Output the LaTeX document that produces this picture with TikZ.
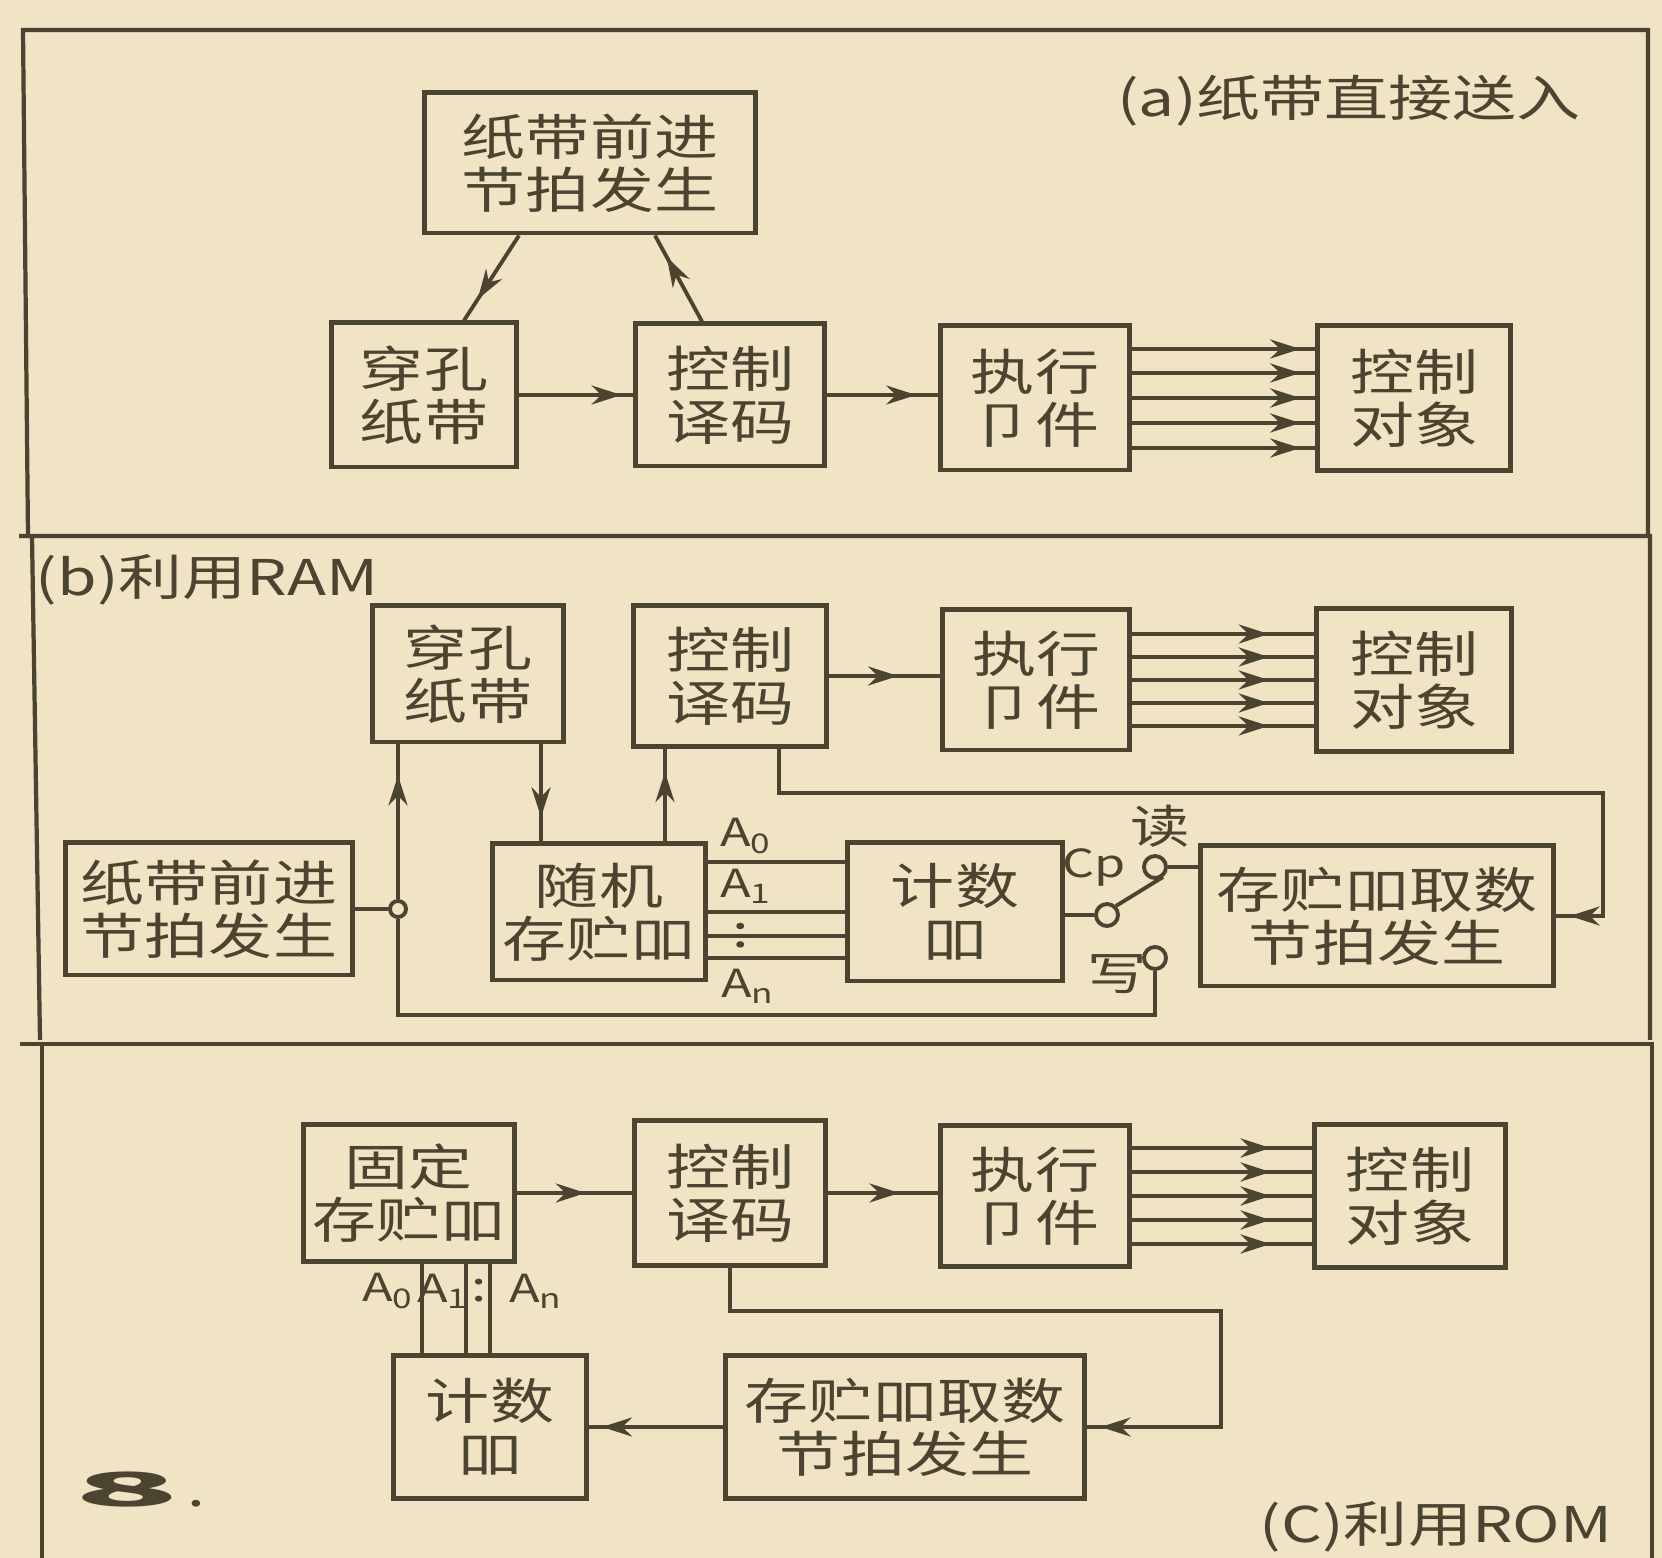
\documentclass[tikz,border=0pt]{standalone}
\usepackage{fontspec}
\setmainfont{Noto Sans CJK SC}[FakeStretch=1.3]
\usetikzlibrary{
  arrows.meta,
  calc,
  decorations.markings
}
\definecolor{paperTone}{HTML}{F1E4C4}
\definecolor{inkTone}{HTML}{4A4430}
\tikzset{
  blockBox/.style={
    draw=inkTone,
    line width=1.4pt,
    align=center,
    inner sep=0pt,
    text=inkTone,
    font=\fontsize{14}{15}\selectfont
  },
  flowLine/.style={inkTone, line width=1.1pt},
  flowArrow/.style={
    flowLine,
    postaction={decorate},
    decoration={markings,
      mark=at position #1 with {\arrow{Stealth[length=3mm, width=1.9mm]}}}
  },
  flowArrow/.default=0.8,
  framePanel/.style={inkTone, line width=1.2pt},
  panelLabel/.style={text=inkTone, inner sep=0pt, font=\fontsize{14}{16}\selectfont},
  pinLabel/.style={text=inkTone, inner sep=0pt, font=\fontsize{11}{13}\selectfont},
  switchPin/.style={circle, draw=inkTone, line width=1.1pt, fill=paperTone,
                    inner sep=0pt, minimum size=2.2mm}
}

\begin{document}
\begin{tikzpicture}[x=0.01cm,y=-0.01cm]
  \fill[paperTone] (0,0) rectangle (1662,1558);
  \useasboundingbox (0,0) rectangle (1662,1558);

  % panel frames
  \draw[framePanel] (28,536) -- (23,30) -- (1648,30) -- (1648,536);
  \draw[framePanel] (40,1040) -- (32,536) -- (19,536) -- (1650,536) -- (1650,1040);
  \draw[framePanel] (42,1558) -- (42,1044) -- (20,1044) -- (1652,1044) -- (1652,1558);

  % (a)
  \node[panelLabel] (aTitle) at (1349,101) {(a)纸带直接送入};
  \node[blockBox, minimum width=3.31cm, minimum height=1.40cm] (aClock) at (590,163) {纸带前进\\节拍发生};
  \node[blockBox, minimum width=1.85cm, minimum height=1.44cm] (aTape) at (424,395) {穿孔\\纸带};
  \node[blockBox, minimum width=1.89cm, minimum height=1.42cm] (aDecode) at (730,395) {控制\\译码};
  \node[blockBox, minimum width=1.88cm, minimum height=1.44cm] (aExec) at (1035,398) {执行\\卩件};
  \node[blockBox, minimum width=1.93cm, minimum height=1.45cm] (aObj) at (1414,398) {控制\\对象};

  \draw[flowArrow=0.75] ($(aClock.south)+(-71,0)$) -- ($(aTape.north)+(40,0)$);
  \draw[flowArrow=0.75] ($(aDecode.north)+(-28,0)$) -- ($(aClock.south)+(65,0)$);
  \draw[flowArrow=0.9] (aTape.east) -- (aDecode.west);
  \draw[flowArrow=0.8] (aDecode.east) -- (aDecode.east -| aExec.west);
  \foreach \dy in {-49,-25,0,25,50}
    \draw[flowArrow=0.92] ($(aExec.east)+(0,\dy)$) -- ($(aObj.west)+(0,\dy)$);

  % (b)
  \node[panelLabel] (bTitle) at (207,580) {(b)利用RAM};
  \node[blockBox, minimum width=1.91cm, minimum height=1.36cm] (bTape) at (468,674) {穿孔\\纸带};
  \node[blockBox, minimum width=1.93cm, minimum height=1.41cm] (bDecode) at (730,676) {控制\\译码};
  \node[blockBox, minimum width=1.86cm, minimum height=1.40cm] (bExec) at (1036,680) {执行\\卩件};
  \node[blockBox, minimum width=1.94cm, minimum height=1.43cm] (bObj) at (1414,680) {控制\\对象};
  \node[blockBox, minimum width=2.86cm, minimum height=1.32cm] (bClock) at (209,909) {纸带前进\\节拍发生};
  \node[blockBox, minimum width=2.12cm, minimum height=1.36cm] (bRam) at (599,912) {随机\\存贮吅};
  \node[blockBox, minimum width=2.14cm, minimum height=1.38cm] (bCount) at (955,912) {计数\\吅};
  \node[blockBox, minimum width=3.52cm, minimum height=1.40cm] (bFetch) at (1377,916) {存贮吅取数\\节拍发生};

  \node[switchPin, minimum size=1.6mm] (bJoin) at (398,909) {};
  \node[switchPin] (bPivot) at (1107,915) {};
  \node[switchPin] (bRead) at (1155,867) {};
  \node[switchPin] (bWrite) at (1155,958) {};
  \coordinate (bLow) at (1155,1015);
  \coordinate (bTurn) at (1603,793);

  \draw[flowArrow=0.75] ($(bTape.south)+(73,0)$) -- ($(bRam.north)+(-58,0)$);
  \draw[flowArrow=0.75] ($(bRam.north)+(66,0)$) -- ($(bDecode.south)+(-65,0)$);
  \draw[flowArrow=0.62] (bDecode.east) -- (bDecode.east -| bExec.west);
  \foreach \dy in {-46,-23,0,23,46}
    \draw[flowArrow=0.75] ($(bExec.east)+(0,\dy)$) -- ($(bObj.west)+(0,\dy)$);
  \draw[flowArrow=-4pt] ($(bDecode.south)+(49,0)$) |- (bTurn) |- (bFetch.east);
  \draw[flowLine] (bClock.east) -- (bJoin);
  \draw[flowArrow=0.8] (bJoin) -- (bJoin |- bTape.south);
  \draw[flowLine] (bJoin) |- (bLow) -- (bWrite);
  \foreach \dy in {-50,0,24,46}
    \draw[flowLine] ($(bRam.east)+(0,\dy)$) -- ($(bCount.west)+(0,\dy)$);
  \draw[flowLine] (bCount.east |- bPivot) -- (bPivot);
  \draw[flowLine] (bPivot.north east) -- ($(bRead)+(8,10)$);
  \draw[flowLine] (bRead) -- (bRead -| bFetch.west);

  \node[pinLabel] (bA0) at (746,836) {A\textsubscript{0}};
  \node[pinLabel] (bA1) at (746,886) {A\textsubscript{1}};
  \node[pinLabel, font=\fontsize{13}{13}\selectfont] (bDots) at (741,936) {:};
  \node[pinLabel] (bAn) at (748,986) {A\textsubscript{n}};
  \node[pinLabel] (bCp) at (1094,868) {Cp};
  \node[pinLabel, font=\fontsize{13}{14}\selectfont] (bReadText) at (1160,826) {读};
  \node[pinLabel, font=\fontsize{13}{14}\selectfont] (bWriteText) at (1117,974) {写};

  % (c)
  \node[blockBox, minimum width=2.10cm, minimum height=1.37cm] (cRom) at (409,1193) {固定\\存贮吅};
  \node[blockBox, minimum width=1.91cm, minimum height=1.44cm] (cDecode) at (730,1193) {控制\\译码};
  \node[blockBox, minimum width=1.89cm, minimum height=1.41cm] (cExec) at (1035,1196) {执行\\卩件};
  \node[blockBox, minimum width=1.91cm, minimum height=1.43cm] (cObj) at (1410,1196) {控制\\对象};
  \node[blockBox, minimum width=1.92cm, minimum height=1.43cm] (cCount) at (490,1427) {计数\\吅};
  \node[blockBox, minimum width=3.58cm, minimum height=1.43cm] (cFetch) at (905,1427) {存贮吅取数\\节拍发生};
  \coordinate (cTurn) at (1221,1311);

  \draw[flowArrow=0.6] (cRom.east) -- (cRom.east -| cDecode.west);
  \draw[flowArrow=0.65] (cDecode.east) -- (cDecode.east -| cExec.west);
  \foreach \dy in {-48,-24,0,24,48}
    \draw[flowArrow=0.77] ($(cExec.east)+(0,\dy)$) -- ($(cObj.west)+(0,\dy)$);
  \draw[flowArrow=-4pt] (cDecode.south) |- (cTurn) |- (cFetch.east);
  \draw[flowArrow=0.9] (cFetch.west) -- (cCount.east);
  \foreach \dx in {13,57,81}
    \draw[flowLine] ($(cRom.south)+(\dx,0)$) -- ($(cCount.north)+(\dx-81,0)$);

  \node[pinLabel] (cA0) at (388,1291) {A\textsubscript{0}};
  \node[pinLabel] (cA1) at (443,1291) {A\textsubscript{1}};
  \node[pinLabel, font=\fontsize{12}{12}\selectfont] (cDots) at (479,1291) {:};
  \node[pinLabel] (cAn) at (536,1291) {A\textsubscript{n}};
  \node[panelLabel] (cTitle) at (1436,1527) {(C)利用ROM};
  \node[panelLabel] (figNum) at (140,1490) {\scalebox{2.7}[0.95]{\bfseries 8}\,.};
\end{tikzpicture}
\end{document}
